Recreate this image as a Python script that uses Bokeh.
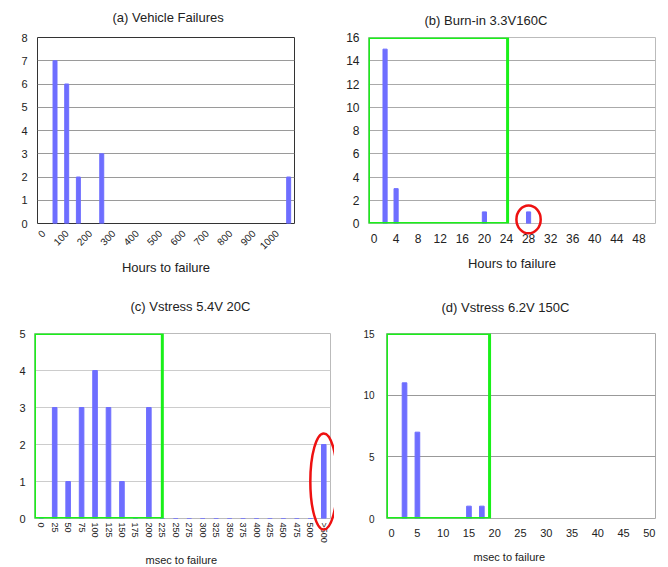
import numpy as np
from bokeh.plotting import figure
from bokeh.layouts import column, row
from bokeh.models import FixedTicker, BoxAnnotation, Range1d, Title
from bokeh.embed import file_html
from bokeh.resources import INLINE

# ---------------- data ----------------
# (a) Vehicle Failures
a_hours = [50, 100, 150, 250, 1050]
a_counts = [7, 6, 2, 3, 2]
a_xticks = [0, 100, 200, 300, 400, 500, 600, 700, 800, 900, 1000]
a_yticks = [0, 1, 2, 3, 4, 5, 6, 7, 8]

# (b) Burn-in 3.3V160C
b_hours = [2, 4, 20, 28]
b_counts = [15, 3, 1, 1]
b_xticks = [0, 4, 8, 12, 16, 20, 24, 28, 32, 36, 40, 44, 48]
b_yticks = [0, 2, 4, 6, 8, 10, 12, 14, 16]

# (c) Vstress 5.4V 20C
c_labels = ["0", "25", "50", "75", "100", "125", "150", "175", "200", "225",
            "250", "275", "300", "325", "350", "375", "400", "425", "450",
            "475", "500", ">500"]
c_counts = [0, 3, 1, 3, 4, 3, 1, 0, 3, 0, 0, 0, 0, 0, 0, 0, 0, 0, 0, 0, 0, 2]
c_yticks = [0, 1, 2, 3, 4, 5]

# (d) Vstress 6.2V 150C
d_msec = [2.5, 5, 15, 17.5]
d_counts = [11, 7, 1, 1]
d_xticks = [0, 5, 10, 15, 20, 25, 30, 35, 40, 45, 50]
d_yticks = [0, 5, 10, 15]

FONT = "Liberation Sans"
BAR = "#6e6eff"
GREEN = "#19f019"
RED = "#ee1111"
TXT = "#222222"


def spacer(size):
    # white (invisible on the white page) title used only as a gap between frame and text
    return Title(text=".", text_font_size="4px", text_color="#ffffff",
                 align="left", offset=0,
                 standoff=max(0, int(round(size - 6.6))))


def text_title(text, size, offset):
    return Title(text=text, text_font=FONT, text_font_size=size,
                 text_font_style="normal", text_color=TXT, align="left",
                 offset=offset, standoff=0, vertical_align="bottom")


def make_fig(title, width, height, bl, br, bt, bb, xr, yr, title_offset,
             title_gap, grid_color, outline_color):
    p = figure(width=width, height=height, x_range=Range1d(*xr), y_range=Range1d(*yr),
               output_backend="svg", toolbar_location=None,
               min_border_left=bl, min_border_right=br,
               min_border_top=bt, min_border_bottom=bb)
    xax = p.below[0]
    yax = p.left[0]
    p.title.text = ""
    p.xgrid.grid_line_color = None
    p.ygrid.grid_line_color = grid_color
    p.outline_line_color = outline_color
    p.outline_line_alpha = 1
    for ax in (xax, yax):
        ax.axis_line_color = None
        ax.major_tick_line_color = None
        ax.minor_tick_line_color = None
        ax.major_tick_out = 0
        ax.major_tick_in = 0
        ax.major_label_text_font = FONT
        ax.major_label_text_color = TXT
        ax.axis_label_text_font = FONT
        ax.axis_label_text_font_style = "normal"
        ax.axis_label_text_color = TXT
    p.add_layout(spacer(title_gap), "above")
    p.add_layout(text_title(title, "13px", title_offset), "above")
    return p, xax, yax


def bottom_label(p, text, size, offset, gap):
    p.add_layout(spacer(gap), "below")
    p.add_layout(text_title(text, size, offset), "below")


def green_box(left, right, bottom, top):
    return BoxAnnotation(left=left, right=right, bottom=bottom, top=top,
                         fill_color=None, line_color=GREEN, line_alpha=1,
                         line_width=3, level="overlay")


def red_ellipse(p, cx, cy, w, h):
    p.ellipse(x=[cx], y=[cy], width=w, height=h, fill_color=None,
              line_color=RED, line_width=2.5, level="overlay")


# ---------------- (a) ----------------
pa, xa, ya = make_fig("(a) Vehicle Failures", 334, 280, 37, 40, 36, 57,
                      (-25, 1075), (0, 8), 75, 15, "#9a9a9a", "#333333")
pa.vbar(x=a_hours, top=a_counts, width=17, color=BAR)
xa.ticker = FixedTicker(ticks=a_xticks)
ya.ticker = FixedTicker(ticks=a_yticks)
xa.major_label_orientation = np.pi / 4
xa.major_label_text_font_size = "10px"
ya.major_label_text_font_size = "11px"
xa.major_label_standoff = 8
ya.major_label_standoff = 10
xa.axis_label = "Hours to failure"
xa.axis_label_text_font_size = "13px"
xa.axis_label_standoff = 4

# ---------------- (b) ----------------
pb, xb, yb = make_fig("(b) Burn-in 3.3V160C", 334, 280, 34, 13, 37, 57,
                      (-1, 51), (0, 16), 56, 12, "#aaaaaa", "#bbbbbb")
pb.vbar(x=b_hours, top=b_counts, width=0.75, color=BAR)
xb.ticker = FixedTicker(ticks=b_xticks)
yb.ticker = FixedTicker(ticks=b_yticks)
xb.major_label_text_font_size = "12px"
yb.major_label_text_font_size = "12px"
xb.major_label_standoff = 10
yb.major_label_standoff = 9
xb.axis_label = "Hours to failure"
xb.axis_label_text_font_size = "13px"
xb.axis_label_standoff = 10
pb.add_layout(green_box(-1, 24.2, 0, 16))
red_ellipse(pb, b_hours[-1], 0.35, 4.4, 2.4)

# ---------------- (c) ----------------
c_pos = list(range(len(c_labels)))
pc, xc, yc = make_fig("(c) Vstress 5.4V 20C", 334, 287, 34, 4, 51, 49,
                      (-0.5, len(c_labels) - 0.5), (0, 5), 96, 22, "#cccccc", "#bbbbbb")
pc.vbar(x=c_pos, top=c_counts, width=0.34, color=BAR)
xc.ticker = FixedTicker(ticks=c_pos)
xc.major_label_overrides = {i: lab for i, lab in zip(c_pos, c_labels)}
yc.ticker = FixedTicker(ticks=c_yticks)
xc.major_label_orientation = "vertical"
xc.major_label_text_font_size = "9px"
yc.major_label_text_font_size = "11px"
xc.major_label_standoff = 4
yc.major_label_standoff = 9
bottom_label(pc, "msec to failure", "11px", 111, 8)
pc.add_layout(green_box(-0.5, 9, 0, 5))
red_ellipse(pc, c_pos[-1], 1.0, 2.0, 2.6)

# ---------------- (d) ----------------
pd_, xd, yd = make_fig("(d) Vstress 6.2V 150C", 334, 287, 52, 13, 53, 48,
                       (-1, 51.2), (0, 15), 55, 21, "#999999", "#aaaaaa")
pd_.vbar(x=d_msec, top=d_counts, width=0.9, color=BAR)
xd.ticker = FixedTicker(ticks=d_xticks)
yd.ticker = FixedTicker(ticks=d_yticks)
xd.major_label_text_font_size = "11px"
yd.major_label_text_font_size = "10px"
xd.major_label_standoff = 10
yd.major_label_standoff = 12
bottom_label(pd_, "msec to failure", "11px", 87, 11)
pd_.add_layout(green_box(-1, 19, 0, 15))

layout = column(row(pa, pb), row(pc, pd_))

with open("out.html", "w") as f:
    f.write(file_html(layout, INLINE))
